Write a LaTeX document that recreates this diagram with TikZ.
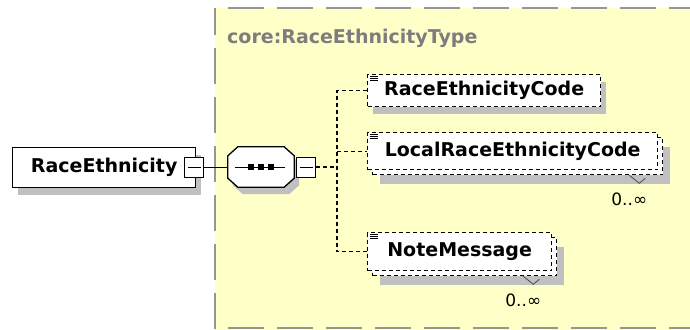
\documentclass[tikz,border=0pt]{standalone}
\usepackage{fontspec}
\usetikzlibrary{shadows}
\newfontfamily\xsdfont{DejaVu Sans}
\definecolor{typebg}{RGB}{255,255,200}
\definecolor{typeline}{RGB}{150,150,150}
\definecolor{typetext}{RGB}{125,125,125}
\definecolor{shadegray}{RGB}{192,192,192}

\begin{document}
\begin{tikzpicture}[x=1pt,y=-1pt]
  \tikzstyle{elem}=[draw,fill=white,line width=1.4pt,anchor=north west,inner sep=0pt,
    font={\xsdfont\bfseries\fontsize{19}{22}\selectfont}]
  \tikzstyle{optelem}=[elem,line width=1.3pt,dash pattern=on 4pt off 3pt]
  \tikzstyle{shade}=[drop shadow={shadow xshift=5pt,shadow yshift=-7pt,fill=shadegray,opacity=1}]
  \tikzstyle{deepshade}=[drop shadow={shadow xshift=7pt,shadow yshift=-9pt,fill=shadegray,opacity=1}]
  \tikzstyle{minusbox}=[draw,fill=white,line width=1pt,minimum width=19pt,minimum height=20pt,inner sep=0pt,
    path picture={\draw[line width=1pt] ([xshift=3pt]path picture bounding box.west) -- ([xshift=-3pt]path picture bounding box.east);}]
  \tikzstyle{link}=[line width=1.2pt,dash pattern=on 4pt off 3pt]
  \tikzstyle{mult}=[font={\xsdfont\fontsize{17}{20}\selectfont},inner sep=0pt]
  \useasboundingbox (0,0) rectangle (690,329);

  % complex type area
  \fill[typebg] (215,8) rectangle (695,335);
  \draw[typeline,line width=2pt,dash pattern=on 36pt off 13pt,dash phase=9pt] (215,8) -- (215,335);
  \draw[typeline,line width=2pt,dash pattern=on 36pt off 13pt] (228,8) -- (695,8);
  \draw[typeline,line width=2pt,dash pattern=on 36pt off 13pt] (228,328) -- (695,328);
  \node[anchor=west,inner sep=0pt,text=typetext,font={\xsdfont\bfseries\fontsize{19}{22}\selectfont}] (typename) at (227,38) {core:RaceEthnicityType};

  % root element and sequence
  \node[elem,shade,minimum width=183pt,minimum height=40pt] (race) at (12,147) {RaceEthnicity\hspace{8pt}};
  \node[minusbox] (raceminus) at (194,167) {};
  \node[minimum width=66pt,minimum height=40pt,inner sep=0pt] (seq) at (261,167) {};
  \draw[fill=white,line width=1.3pt,shade]
    ([xshift=10pt]seq.north west) -- ([xshift=-10pt]seq.north east) -- ([yshift=-9pt]seq.north east)
    -- ([yshift=9pt]seq.south east) -- ([xshift=-10pt]seq.south east) -- ([xshift=10pt]seq.south west)
    -- ([yshift=9pt]seq.south west) -- ([yshift=-9pt]seq.north west) -- cycle;
  \node[minusbox] (seqminus) at (306,167) {};
  \draw[line width=1pt] ([xshift=-26pt]seq.center) -- ([xshift=24pt]seq.center);
  \foreach \dx in {-10,0,10}
    \fill ([xshift=\dx pt]seq.center) +(-3,-3) rectangle +(3,3);
  \draw[line width=1pt] (raceminus.east) -- (seq.west);

  % child elements
  \node[optelem,shade,minimum width=233pt,minimum height=32pt] (rec) at (367,74) {RaceEthnicityCode};
  \node[optelem,deepshade,minimum width=290pt,minimum height=37pt] (lrecback) at (372,137) {};
  \node[optelem,minimum width=290pt,minimum height=37pt] (lrec) at (367,132) {LocalRaceEthnicityCode};
  \node[optelem,deepshade,minimum width=184pt,minimum height=38pt] (noteback) at (372,237) {};
  \node[optelem,minimum width=184pt,minimum height=38pt] (note) at (367,232) {NoteMessage};

  \foreach \n in {rec,lrec,note}
    \foreach \d in {2,4,6}
      \draw[line width=0.8pt] ([xshift=3pt,yshift=-\d pt]\n.north west) -- ++(8,0);

  \foreach \n in {lrecback,noteback} {
    \draw[black!70,line width=0.8pt] ([xshift=-34pt]\n.south east) -- ++(10,8) -- ++(6,-5);
    \node[mult] (\n mult) at ([xshift=-34pt,yshift=-24pt]\n.south east) {0..∞};
  }

  % connectors
  \coordinate (branch) at (337,167);
  \draw[link] (seqminus.east) -- (branch);
  \draw[link] (rec.west) -| (branch) |- (note.west);
  \draw[link] (branch |- lrec.west) -- (lrec.west);
\end{tikzpicture}
\end{document}
